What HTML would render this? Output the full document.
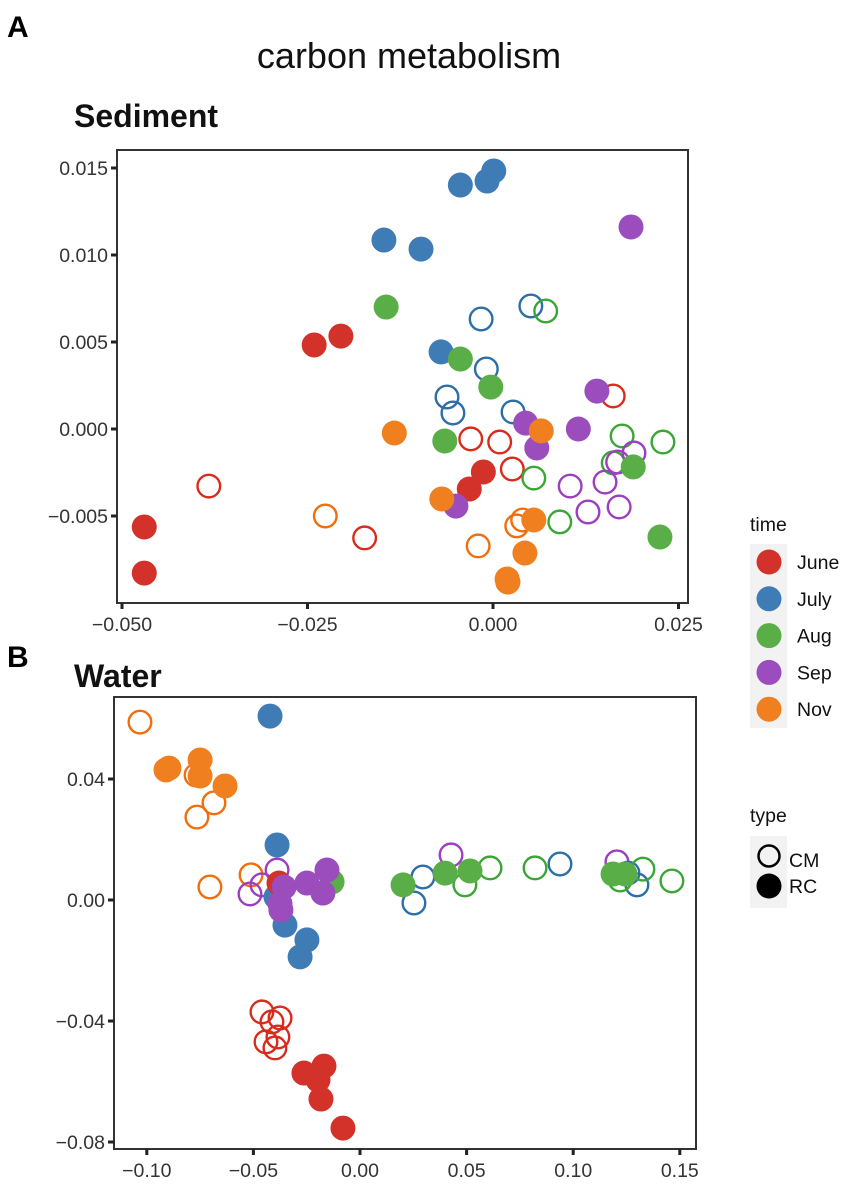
<!DOCTYPE html>
<html><head><meta charset="utf-8">
<style>
html,body{margin:0;padding:0;background:#fff;}
svg{display:block;font-family:"Liberation Sans",Arial,sans-serif;}
</style></head>
<body>
<svg id="fig" width="851" height="1187" viewBox="0 0 851 1187">
<text x="7" y="37" font-size="30" font-weight="bold">A</text>
<text x="409" y="68" font-size="36" text-anchor="middle" fill="#111">carbon metabolism</text>
<text x="74" y="127" font-size="32" font-weight="bold" fill="#111">Sediment</text>
<text x="7" y="667" font-size="30" font-weight="bold">B</text>
<text x="74" y="687" font-size="32" font-weight="bold" fill="#111">Water</text>
<g id="sed"></g>
<g id="wat"></g>
<g id="legend"></g>
</svg>
<script>
const months = ["June","July","Aug","Sep","Nov"];
const fillColors = ["#d3322a","#3f7bb5","#5aae47","#9b4dbd","#f07f1f"];
const strokeColors = ["#d92b1c","#2c6ea8","#3aa635","#9b3fc0","#f06e0c"];

// Sediment
const sedXTicks = [-0.050,-0.025,0.000,0.025];
const sedXTickLabels = ["\u22120.050","\u22120.025","0.000","0.025"];
const sedYTicks = [0.015,0.010,0.005,0.000,-0.005];
const sedYTickLabels = ["0.015","0.010","0.005","0.000","\u22120.005"];
const sedX = [-0.0383,-0.0173,-0.0030,0.0009,0.0026,0.0162, -0.0016,0.0051,-0.0009,-0.0062,-0.0054,0.0027, 0.0071,0.0174,0.0229,0.0055,0.0090,0.0162, 0.0190,0.0168,0.0104,0.0151,0.0128,0.0170, -0.0226,-0.0020,0.0032,0.0040,0.0020,
 -0.0470,-0.0470,-0.0241,-0.0205,-0.0013,-0.0032, -0.0147,-0.0097,-0.0044,-0.0008,0.0001,-0.0070, -0.0144,-0.0044,-0.0003,-0.0065,0.0189,0.0225, 0.0186,0.0140,0.0044,0.0059,0.0115,-0.0050, -0.0133,0.0065,-0.0069,0.0055,0.0043,0.0019,0.0020];
const sedY = [-0.00328,-0.00626,-0.00057,-0.00075,-0.00230,0.00190, 0.00632,0.00707,0.00345,0.00184,0.00092,0.00098, 0.00678,-0.00040,-0.00075,-0.00282,-0.00534,-0.00195, -0.00138,-0.00190,-0.00328,-0.00305,-0.00477,-0.00448, -0.00500,-0.00672,-0.00557,-0.00523,-0.00879,
 -0.00563,-0.00828,0.00483,0.00534,-0.00247,-0.00345, 0.01086,0.01034,0.01402,0.01425,0.01483,0.00443, 0.00701,0.00402,0.00241,-0.00069,-0.00218,-0.00621, 0.01161,0.00218,0.00034,-0.00109,0.00000,-0.00443, -0.00023,-0.00011,-0.00402,-0.00523,-0.00713,-0.00862,-0.00879];
const sedMonth = [0,0,0,0,0,0, 1,1,1,1,1,1, 2,2,2,2,2,2, 3,3,3,3,3,3, 4,4,4,4,4,
 0,0,0,0,0,0, 1,1,1,1,1,1, 2,2,2,2,2,2, 3,3,3,3,3,3, 4,4,4,4,4,4,4];
const sedType = "CCCCCCCCCCCCCCCCCCCCCCCCCCCCCRRRRRRRRRRRRRRRRRRRRRRRRRRRRRRR";

// Water
const watXTicks = [-0.10,-0.05,0.00,0.05,0.10,0.15];
const watXTickLabels = ["\u22120.10","\u22120.05","0.00","0.05","0.10","0.15"];
const watYTicks = [0.04,0.00,-0.04,-0.08];
const watYTickLabels = ["0.04","0.00","\u22120.04","\u22120.08"];
const watX = [-0.1032,-0.0685,-0.0765,-0.0769,-0.0704,-0.0511, -0.0516,-0.0460,-0.0389,0.0427,0.1205, 0.0253,0.0295,0.0938,0.1257,0.1299, 0.0492,0.0610,0.0821,0.1220,0.1327,0.1463, -0.0460,-0.0413,-0.0375,-0.0441,-0.0399,-0.0385,
 -0.0896,-0.0910,-0.0750,-0.0750,-0.0633, -0.0422,-0.0389,-0.0394,-0.0352,-0.0249,-0.0281, -0.0131,0.0202,0.0399,0.0516,0.1187,0.1243, -0.0380, -0.0356,-0.0249,-0.0155,-0.0174,-0.0371,-0.0375,
 -0.0263,-0.0197,-0.0169,-0.0183,-0.0080];
const watY = [0.0588,0.0321,0.0274,0.0413,0.0043,0.0083, 0.0020,0.0050,0.0099,0.0149,0.0126, -0.0010,0.0076,0.0119,0.0089,0.0050, 0.0050,0.0106,0.0106,0.0066,0.0102,0.0063, -0.0370,-0.0403,-0.0390,-0.0469,-0.0489,-0.0453,
 0.0436,0.0430,0.0463,0.0410,0.0377, 0.0608,0.0182,0.0010,-0.0083,-0.0132,-0.0188, 0.0060,0.0050,0.0089,0.0096,0.0086,0.0086, 0.0056, 0.0043,0.0056,0.0099,0.0023,-0.0033,-0.0013,
 -0.0572,-0.0595,-0.0549,-0.0658,-0.0754];
const watMonth = [4,4,4,4,4,4, 3,3,3,3,3, 1,1,1,1,1, 2,2,2,2,2,2, 0,0,0,0,0,0,
 4,4,4,4,4, 1,1,1,1,1,1, 2,2,2,2,2,2, 0, 3,3,3,3,3,3, 0,0,0,0,0];
const watType = "CCCCCCCCCCCCCCCCCCCCCCCCCCCCRRRRRRRRRRRRRRRRRRRRRRRRRRRRR";

const NS = "http://www.w3.org/2000/svg";
function mk(tag, attrs, parent){ const e=document.createElementNS(NS,tag); for(const k in attrs) e.setAttribute(k,attrs[k]); parent.appendChild(e); return e; }

function drawPanel(g, box, xScale, yScale, xt, xl, yt, yl, xs, ys, ms, ts){
  for(let i=0;i<xs.length;i++){
    const m=ms[i], filled = ts[i]==="R";
    const c = mk("circle",{cx:xScale(xs[i]),cy:yScale(ys[i]),r:filled?12.5:11.3,
      fill:filled?fillColors[m]:"none",stroke:filled?"none":strokeColors[m],"stroke-width":filled?0:2.4},g);
    
    
  }
  const frame = mk("rect",{x:box.l,y:box.t,width:box.r-box.l,height:box.b-box.t,fill:"none",stroke:"#333","stroke-width":2},g);
  
  
  xt.forEach((v,i)=>{
    const x=xScale(v);
    const t=mk("line",{x1:x,x2:x,y1:box.b,y2:box.b+6,stroke:"#222","stroke-width":3},g);
    
    
    const l=mk("text",{x:x,y:box.b+28,"font-size":19.5,"text-anchor":"middle",fill:"#333"},g);
    l.textContent=xl[i];
    
    
  });
  yt.forEach((v,i)=>{
    const y=yScale(v);
    const t=mk("line",{x1:box.l-6,x2:box.l,y1:y,y2:y,stroke:"#222","stroke-width":3},g);
    
    
    const l=mk("text",{x:box.l-9,y:y+7,"font-size":19.5,"text-anchor":"end",fill:"#333"},g);
    l.textContent=yl[i];
    
    
  });
}

const sedBox={l:117,r:688,t:150,b:603};
const sedXS = v => 493 + v/0.025*185.5;
const sedYS = v => 429 - v/0.005*87;
drawPanel(document.getElementById("sed"), sedBox, sedXS, sedYS, sedXTicks, sedXTickLabels, sedYTicks, sedYTickLabels, sedX, sedY, sedMonth, sedType);

const watBox={l:114,r:696,t:697,b:1149};
const watXS = v => 360 + v/0.05*106.6;
const watYS = v => 900 - v/0.04*121;
drawPanel(document.getElementById("wat"), watBox, watXS, watYS, watXTicks, watXTickLabels, watYTicks, watYTickLabels, watX, watY, watMonth, watType);

const lg=document.getElementById("legend");
const tt=mk("text",{x:750,y:531,"font-size":19.5,fill:"#111"},lg); tt.textContent="time";


const bg=mk("rect",{x:750,y:544,width:37,height:184,fill:"#f2f2f2"},lg);


months.forEach((m,i)=>{
  const y=562+i*36.8;
  const c=mk("circle",{cx:769,cy:y,r:12.5,fill:fillColors[i]},lg);
  
  
  const t=mk("text",{x:797,y:y+7,"font-size":19.5,fill:"#111"},lg); t.textContent=m;
  
  
});
const ty=mk("text",{x:750,y:822,"font-size":19.5,fill:"#111"},lg); ty.textContent="type";


const bg2=mk("rect",{x:750,y:836,width:37,height:72,fill:"#f2f2f2"},lg);


const cm=mk("circle",{cx:769,cy:856,r:10.5,fill:"none",stroke:"#000","stroke-width":2.5},lg);


const rc=mk("circle",{cx:769,cy:886,r:12.5,fill:"#000"},lg);


const cmt=mk("text",{x:789,y:867,"font-size":19.5,fill:"#111"},lg); cmt.textContent="CM";


const rct=mk("text",{x:789,y:893,"font-size":19.5,fill:"#111"},lg); rct.textContent="RC";


</script>
</body></html>
